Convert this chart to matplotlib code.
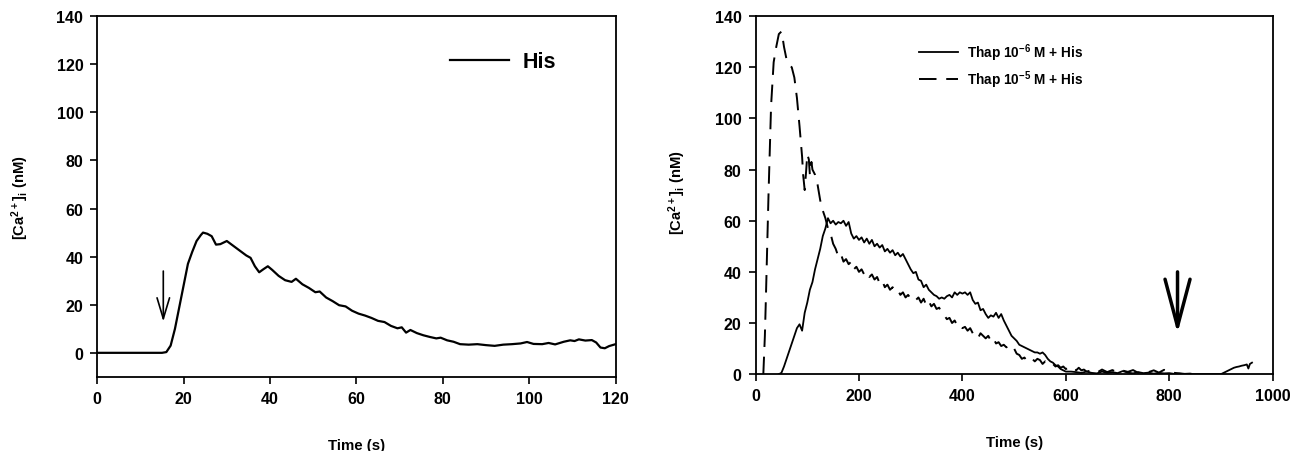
import numpy as np
import matplotlib
matplotlib.use("Agg")
import matplotlib.pyplot as plt

plt.rcParams['font.family'] = ['Liberation Sans', 'DejaVu Sans']
plt.rcParams['font.weight'] = 'bold'
plt.rcParams['mathtext.fontset'] = 'custom'
plt.rcParams['mathtext.rm'] = 'Liberation Sans:bold'
plt.rcParams['mathtext.it'] = 'Liberation Sans:bold'
plt.rcParams['mathtext.bf'] = 'Liberation Sans:bold'

# ---- left panel: histamine alone ----
his_t = [0, 5, 10, 15, 16, 17, 18, 19, 20, 21, 22, 23, 24, 24.5, 25.5, 26.5, 27.5, 28.5,
         30, 31.5, 33, 34.5, 35.5, 36.5, 37.5, 38.5, 39.5, 40.5, 42, 43.5, 45, 46, 47.5,
         49, 50.5, 51.5, 53, 54.5, 56, 57.5, 59, 60.5, 62, 63.5, 65, 66.5, 68, 69.5, 70.5,
         71.5, 72.5, 74, 75.5, 77, 78.5, 79.5, 81, 82.5, 84, 86, 88, 90, 92, 94, 96, 98,
         99.5, 101, 103, 104.5, 106, 108, 109.5, 110.5, 111.5, 113, 114.5, 115.5, 116.5,
         117.5, 118.5, 120]
his_v = [0, 0, 0, 0, 0.3, 3, 10, 19, 28, 37, 42, 46.5, 49, 50, 49.5, 48.5, 45, 45.2,
         46.5, 44.5, 42.5, 40.5, 39.5, 36, 33.5, 34.8, 36, 34.5, 32, 30.2, 29.5, 30.8, 28.5,
         27, 25.2, 25.5, 23, 21.5, 19.8, 19.3, 17.5, 16.3, 15.5, 14.5, 13.3, 12.8, 11.2, 10.2,
         10.6, 8.4, 9.5, 8.2, 7.3, 6.6, 6, 6.3, 5.2, 4.6, 3.6, 3.4, 3.6, 3.2, 2.9, 3.4, 3.6,
         3.9, 4.5, 3.7, 3.6, 4.1, 3.5, 4.6, 5.2, 4.9, 5.6, 5.1, 5.3, 4.3, 2.2, 1.9, 2.8, 3.6]

# ---- right panel: thapsigargin 10^-6 M + histamine (solid) ----
thap6_t = (list(range(45, 611, 5)) + list(range(620, 901, 10))
           + list(range(905, 951, 5)) + [953, 956, 960])
thap6_v = [0, 0.5, 3, 6, 9, 12, 15, 18, 19.5, 17, 24, 28, 33, 36, 41, 45, 49, 54, 57, 61,
           59, 60, 58.5, 59.5, 59, 60, 58, 59.5, 55, 53, 54, 52.5, 53.5, 51.5, 53, 51, 52.5, 50, 51, 49.5,
           50.5, 48, 49, 47.5, 48.5, 46.5, 47.5, 46, 47, 45, 43, 41, 39.5, 40, 37, 36.5, 34, 35, 33, 32,
           31, 30.5, 29.5, 30, 29.5, 30.5, 31, 30, 32, 31, 32, 31.5, 32, 31, 32, 29, 27.5, 28, 25, 25.5,
           23.5, 22, 23, 22.5, 24, 22, 23.5, 21, 19, 17, 15, 14, 13, 11.5, 11, 10.5, 10, 9.5, 9, 8.5,
           8.5, 8, 8.5, 7.5, 6, 5, 4.5, 3.5, 3, 2, 1.5, 1, 1, 1,
           0.8, 0.5, 1, 0.5, 0.3, 1, 0.5, 0.8, 0.4, 1.2, 0.6, 0.3, 0.8, 0.4, 0.6, 0.2, 0.5, 0.3, 0.4,
           0.1, 0.2, 0, 0, 0, 0, 0, 0, 0, 0,
           0.5, 1, 1.5, 2, 2.5, 2.8, 3, 3.3, 3.5, 3.8,
           2.2, 4, 4.5]

# ---- right panel: thapsigargin 10^-5 M + histamine (dashed) ----
thap5_t = ([15, 18, 20, 25, 30, 35, 40, 45, 50, 52, 55, 60, 65, 70, 75, 80, 85, 90,
            92, 95, 98, 100, 103, 105, 108, 110]
           + list(range(115, 641, 5)) + list(range(650, 851, 10)))
thap5_v = [0, 15, 30, 70, 105, 122, 128, 133, 134, 132, 128, 123, 121, 120, 116, 108, 97, 85,
           78, 72, 80, 86, 84, 78, 83, 80,
           78, 74, 68, 64, 61, 57, 55, 51, 49, 46,
           47, 44, 45, 43, 44, 41, 42, 40, 41, 39,
           40, 38, 39, 37, 38, 35.5, 36.5, 34, 35, 33,
           34, 32.5, 33, 31, 32, 30, 31, 29.5, 30, 29,
           30, 28, 29.5, 27, 28.5, 26.5, 27.5, 25.5, 26, 24,
           23, 21.5, 22, 20, 21, 19, 19.5, 18, 18.5, 17,
           18, 16, 15.5, 14, 16, 15, 14, 15, 13, 14,
           12, 12.5, 11, 11.5, 10.5, 11, 9.5, 10, 8, 7.5,
           6, 6.5, 5, 5.5, 6, 5, 6, 5.5, 4, 5,
           4, 3.5, 4, 3, 3.5, 2.5, 3, 2, 2.5, 2,
           2.5, 1.5, 2.5, 1.5, 1.8, 1,
           1.5, 0.6, 1.8, 0.8, 1.6, 0.7, 1.4, 0.9, 1.6, 0.5, 1.2, 0.8, 1.5, 0.6, 1.7, 0.8,
           0.5, 0.3, 0.1, 0.2, 0]

ylab = r'[Ca$^{2+}$]$_{\rm i}$ (nM)'

fig = plt.figure(figsize=(12.96, 4.52), dpi=100)
ax1 = fig.add_axes([0.075, 0.164, 0.400, 0.798])
ax2 = fig.add_axes([0.583, 0.170, 0.399, 0.792])

for ax in (ax1, ax2):
    for s in ax.spines.values():
        s.set_linewidth(1.3)
    ax.tick_params(direction='out', length=5, width=1.2, labelsize=11.5, pad=5,
                   top=False, right=False)

# left
ax1.plot(his_t, his_v, color='black', lw=1.6, label='His')
ax1.set_xlim(0, 120)
ax1.set_ylim(-10, 140)
ax1.set_xticks(np.arange(0, 121, 20))
ax1.set_yticks(np.arange(0, 141, 20))
ax1.set_xlabel('Time (s)', fontsize=10.8, fontweight='bold')
ax1.set_ylabel(ylab, fontsize=10.6, fontweight='bold')
ax1.xaxis.set_label_coords(0.5, -0.17)
ax1.yaxis.set_label_coords(-0.128, 0.50)
ax1.legend(loc='center left', bbox_to_anchor=(0.681, 0.873), frameon=False,
           handlelength=2.75, handletextpad=0.6,
           borderpad=0, borderaxespad=0, prop={'weight': 'bold', 'size': 15.5})
ax1.annotate('', xy=(15.3, 13), xytext=(15.3, 34),
             arrowprops=dict(arrowstyle='->, head_length=1.5, head_width=0.45',
                             lw=1.2, color='black', mutation_scale=10,
                             shrinkA=0, shrinkB=0))

# right
ax2.plot(thap6_t, thap6_v, color='black', lw=1.3, label=r'Thap 10$^{-6}$ M + His')
ax2.plot(thap5_t, thap5_v, color='black', lw=1.4, dashes=(9, 5),
         label=r'Thap 10$^{-5}$ M + His')
ax2.set_xlim(0, 1000)
ax2.set_ylim(0, 140)
ax2.set_xticks(np.arange(0, 1001, 200))
ax2.set_yticks(np.arange(0, 141, 20))
ax2.set_xlabel('Time (s)', fontsize=10.8, fontweight='bold')
ax2.set_ylabel(ylab, fontsize=10.6, fontweight='bold')
ax2.xaxis.set_label_coords(0.5, -0.17)
ax2.yaxis.set_label_coords(-0.13, 0.51)
ax2.legend(loc='center left', bbox_to_anchor=(0.317, 0.862), frameon=False,
           handlelength=2.8, handletextpad=0.7, labelspacing=0.4,
           borderpad=0, borderaxespad=0, prop={'weight': 'bold', 'size': 9.8})
ax2.annotate('', xy=(816, 16), xytext=(816, 40),
             arrowprops=dict(arrowstyle='->, head_length=3.4, head_width=0.9',
                             lw=2.5, color='black', mutation_scale=10,
                             shrinkA=0, shrinkB=0))

fig.savefig('out.png', dpi=100)
